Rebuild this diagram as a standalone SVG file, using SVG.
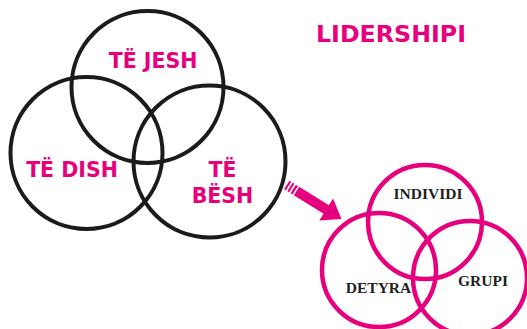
<svg xmlns="http://www.w3.org/2000/svg" width="527" height="329" viewBox="0 0 527 329">
<style>
.bc{fill:none;stroke:#1d1a1b;stroke-width:4}
.pc{fill:none;stroke:#e6007e;stroke-width:4.5}
.bt{font-family:"DejaVu Sans","Verdana",sans-serif;font-weight:bold;fill:#e6007e;text-anchor:middle}
.st{font-family:"Liberation Serif","Times New Roman",serif;font-weight:bold;fill:#231f20;text-anchor:middle;font-size:15.5px}
</style>
<rect width="527" height="329" fill="#ffffff"/>
<g id="te-jesh"><circle class="bc" cx="147.5" cy="87" r="76"/><text class="bt" x="153" y="68" font-size="20.5">TË JESH</text></g>
<g id="te-dish"><circle class="bc" cx="86.5" cy="153" r="76"/><text class="bt" x="72" y="177" font-size="20.5">TË DISH</text></g>
<g id="te-besh"><circle class="bc" cx="209.5" cy="161.5" r="76"/><text class="bt" x="222.5" y="177" font-size="20.5">TË</text><text class="bt" x="222.5" y="203" font-size="20.5">BËSH</text></g>
<g id="lidershipi"><text class="bt" x="391" y="42" font-size="22.5" textLength="150" lengthAdjust="spacingAndGlyphs">LIDERSHIPI</text></g>
<g id="connectors">
<g transform="translate(296.5,191) rotate(32)" fill="#e6007e">
<rect x="-11.5" y="-5" width="2.2" height="10"/>
<rect x="-7.7" y="-5" width="2.2" height="10"/>
<rect x="-3.9" y="-5" width="2.4" height="10"/>
<rect x="0" y="-5" width="37" height="10"/>
<polygon points="35,-13 53,0 35,13"/>
</g>
</g>
<g id="individi"><circle class="pc" cx="425" cy="222" r="57"/><text class="st" x="428" y="199">INDIVIDI</text></g>
<g id="detyra"><circle class="pc" cx="379" cy="270" r="57"/><text class="st" x="378.5" y="293">DETYRA</text></g>
<g id="grupi"><circle class="pc" cx="470" cy="278" r="57"/><text class="st" x="483" y="286">GRUPI</text></g>
</svg>
